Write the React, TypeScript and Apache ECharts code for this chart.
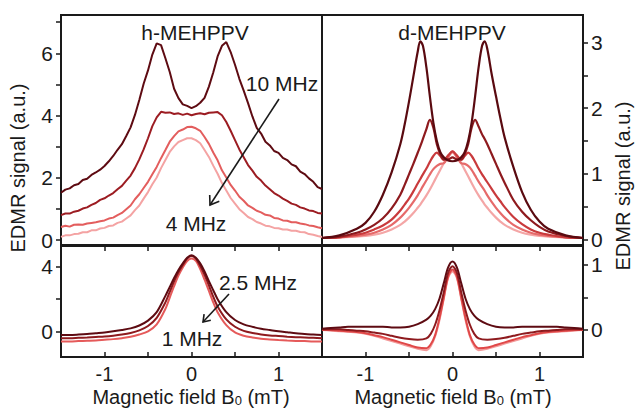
import React, { useEffect, useRef } from "react";
import * as echarts from "echarts";

// ---------- data ----------
const TL_X = [-1.5,-1.45,-1.4,-1.35,-1.3,-1.25,-1.2,-1.15,-1.1,-1.05,-1,-0.95,-0.9,-0.85,-0.8,-0.75,-0.7,-0.65,-0.6,-0.55,-0.5,-0.45,-0.4,-0.35,-0.3,-0.25,-0.2,-0.15,-0.1,-0.05,0,0.05,0.1,0.15,0.2,0.25,0.3,0.35,0.4,0.45,0.5,0.55,0.6,0.65,0.7,0.75,0.8,0.85,0.9,0.95,1,1.05,1.1,1.15,1.2,1.25,1.3,1.35,1.4,1.45,1.5];
const H_10MHZ = [1.52,1.62,1.66,1.76,1.80,1.93,1.97,2.09,2.17,2.26,2.38,2.53,2.70,2.90,3.08,3.34,3.62,4.02,4.50,5.02,5.45,5.96,6.32,6.26,5.84,5.40,4.86,4.56,4.36,4.31,4.24,4.30,4.41,4.57,4.93,5.38,5.90,6.24,6.36,6.04,5.63,5.18,4.80,4.40,3.97,3.60,3.42,3.16,3.04,2.86,2.80,2.64,2.57,2.43,2.37,2.20,2.12,1.98,1.87,1.70,1.64];
const H_8MHZ = [0.80,0.85,0.85,0.91,0.94,1.01,1.05,1.13,1.19,1.29,1.34,1.43,1.51,1.63,1.74,1.91,2.07,2.31,2.59,2.91,3.27,3.66,3.94,4.12,4.09,4.10,4.05,4.07,4.02,4.06,4.01,4.05,4.07,4.04,4.09,4.10,4.11,4.01,3.79,3.51,3.21,2.91,2.66,2.41,2.23,2.03,1.91,1.75,1.63,1.51,1.43,1.33,1.26,1.17,1.13,1.05,1.01,0.95,0.93,0.87,0.85];
const H_6MHZ = [0.42,0.46,0.43,0.49,0.50,0.49,0.53,0.55,0.57,0.60,0.63,0.69,0.72,0.80,0.87,0.99,1.11,1.31,1.47,1.67,1.87,2.11,2.35,2.63,2.89,3.16,3.34,3.49,3.55,3.63,3.64,3.59,3.51,3.31,3.09,2.81,2.56,2.24,2.01,1.77,1.59,1.39,1.26,1.11,1.03,0.94,0.89,0.81,0.79,0.71,0.69,0.63,0.62,0.57,0.57,0.53,0.51,0.47,0.45,0.41,0.38];
const H_4MHZ = [0.10,0.15,0.15,0.19,0.20,0.25,0.25,0.31,0.31,0.37,0.39,0.45,0.47,0.55,0.59,0.69,0.79,0.96,1.11,1.33,1.54,1.79,2.01,2.31,2.57,2.83,3.01,3.15,3.21,3.27,3.27,3.21,3.11,2.89,2.67,2.39,2.13,1.83,1.59,1.35,1.17,0.99,0.87,0.74,0.67,0.58,0.53,0.46,0.44,0.39,0.38,0.34,0.34,0.30,0.30,0.26,0.25,0.19,0.17,0.13,0.10];

const TR_X = [-1.5,-1.3,-1.1,-1.0,-0.9,-0.8,-0.7,-0.6,-0.55,-0.5,-0.45,-0.4,-0.37,-0.34,-0.3,-0.26,-0.22,-0.18,-0.14,-0.1,-0.05,0,0.05,0.1,0.14,0.18,0.22,0.26,0.3,0.34,0.37,0.4,0.45,0.5,0.55,0.6,0.7,0.8,0.9,1.0,1.1,1.3,1.5];
const D_1 = [0.02,0.06,0.16,0.25,0.42,0.68,1.02,1.45,1.75,2.1,2.48,2.86,3.02,2.95,2.62,2.18,1.78,1.5,1.33,1.25,1.2,1.19,1.2,1.25,1.33,1.5,1.78,2.18,2.62,2.95,3.02,2.9,2.52,2.18,1.85,1.55,1.1,0.72,0.45,0.27,0.16,0.06,0.02];
const D_2 = [0.02,0.04,0.1,0.15,0.22,0.32,0.47,0.68,0.83,0.99,1.15,1.32,1.42,1.53,1.68,1.82,1.7,1.45,1.3,1.22,1.22,1.25,1.22,1.22,1.3,1.45,1.7,1.82,1.72,1.6,1.53,1.45,1.3,1.15,1.0,0.86,0.6,0.42,0.29,0.19,0.12,0.05,0.02];
const D_3 = [0.02,0.03,0.07,0.1,0.15,0.21,0.3,0.44,0.53,0.62,0.73,0.85,0.92,0.99,1.08,1.18,1.27,1.32,1.27,1.21,1.28,1.34,1.28,1.21,1.27,1.32,1.27,1.18,1.08,0.99,0.93,0.87,0.77,0.67,0.58,0.49,0.34,0.23,0.15,0.1,0.07,0.03,0.02];
const D_4 = [0.02,0.03,0.05,0.07,0.1,0.15,0.22,0.33,0.4,0.48,0.57,0.67,0.74,0.81,0.9,0.99,1.07,1.12,1.15,1.16,1.25,1.34,1.25,1.16,1.15,1.12,1.06,0.97,0.88,0.8,0.74,0.67,0.57,0.48,0.4,0.33,0.22,0.15,0.1,0.07,0.05,0.03,0.02];
const D_5 = [0.02,0.03,0.04,0.05,0.07,0.1,0.15,0.22,0.27,0.33,0.4,0.48,0.53,0.59,0.67,0.76,0.86,0.96,1.06,1.16,1.26,1.32,1.26,1.16,1.06,0.96,0.86,0.76,0.67,0.59,0.53,0.48,0.4,0.33,0.27,0.22,0.15,0.1,0.07,0.05,0.04,0.03,0.02];

const B_X = [-1.5,-1.4,-1.3,-1.2,-1.1,-1.0,-0.9,-0.8,-0.7,-0.6,-0.5,-0.4,-0.3,-0.25,-0.2,-0.15,-0.1,-0.05,0,0.05,0.1,0.15,0.2,0.25,0.3,0.4,0.5,0.6,0.7,0.8,0.9,1.0,1.1,1.2,1.3,1.4,1.5];
const HB_25MHZ = [-0.2,-0.2,-0.18,-0.15,-0.1,-0.05,0.02,0.1,0.2,0.38,0.68,1.2,2.2,2.75,3.3,3.8,4.2,4.55,4.7,4.55,4.2,3.7,3.1,2.55,2.0,1.2,0.72,0.45,0.3,0.18,0.1,0.02,-0.04,-0.1,-0.14,-0.18,-0.2];
const HB_15MHZ = [-0.4,-0.4,-0.38,-0.36,-0.33,-0.3,-0.25,-0.18,-0.08,0.08,0.35,0.85,1.8,2.45,3.1,3.65,4.1,4.5,4.65,4.5,4.05,3.5,2.85,2.15,1.55,0.75,0.3,0.05,-0.08,-0.17,-0.23,-0.27,-0.31,-0.34,-0.36,-0.38,-0.4];
const HB_1MHZ = [-0.6,-0.6,-0.58,-0.56,-0.54,-0.5,-0.46,-0.4,-0.32,-0.18,0.02,0.45,1.4,2.1,2.8,3.45,3.95,4.35,4.5,4.35,3.85,3.2,2.5,1.8,1.2,0.4,-0.05,-0.25,-0.36,-0.44,-0.48,-0.52,-0.55,-0.57,-0.58,-0.6,-0.6];

const DB_1 = [0.02,0.03,0.04,0.05,0.05,0.05,0.05,0.05,0.04,0.04,0.05,0.09,0.16,0.22,0.32,0.48,0.72,0.96,1.05,0.96,0.72,0.48,0.32,0.22,0.16,0.09,0.05,0.04,0.04,0.05,0.05,0.05,0.05,0.05,0.04,0.03,0.02];
const DB_2 = [0.01,0.01,0.01,0.0,-0.01,-0.02,-0.04,-0.06,-0.09,-0.12,-0.14,-0.15,-0.13,-0.06,0.08,0.3,0.58,0.88,0.98,0.88,0.58,0.3,0.08,-0.06,-0.13,-0.15,-0.14,-0.12,-0.09,-0.06,-0.04,-0.02,-0.01,0.0,0.01,0.01,0.01];
const DB_3 = [0.0,0.0,-0.01,-0.02,-0.03,-0.05,-0.08,-0.11,-0.15,-0.19,-0.23,-0.27,-0.28,-0.22,-0.08,0.18,0.5,0.82,0.93,0.82,0.5,0.18,-0.08,-0.22,-0.28,-0.27,-0.23,-0.19,-0.15,-0.11,-0.08,-0.05,-0.03,-0.02,-0.01,0.0,0.0];
const DB_4 = [0.0,-0.01,-0.02,-0.03,-0.04,-0.06,-0.09,-0.13,-0.17,-0.21,-0.25,-0.29,-0.31,-0.25,-0.1,0.15,0.48,0.8,0.9,0.8,0.48,0.15,-0.1,-0.25,-0.31,-0.29,-0.25,-0.21,-0.17,-0.13,-0.09,-0.06,-0.04,-0.03,-0.02,-0.01,0.0];

const X_TICKS = [-1, -0.5, 0, 0.5, 1];
const X_LABELS = [-1, 0, 1];
const TL_TICKS = [0, 1, 2, 3, 4, 5, 6, 7];
const TL_LABELS = [0, 2, 4, 6];
const TR_TICKS = [0, 0.5, 1, 1.5, 2, 2.5, 3];
const TR_LABELS = [0, 1, 2, 3];
const BL_TICKS = [0, 2, 4];
const BL_LABELS = [0, 4];
const BR_TICKS = [0, 0.5, 1];
const BR_LABELS = [0, 1];

const FONT = "Liberation Sans";
const INK = "#1a1a1a";

const zip = (xs: number[], ys: number[]) => xs.map((x, i) => [x, ys[i]]);

export default function App() {
  const ref = useRef<HTMLDivElement>(null);
  useEffect(() => {
    if (!ref.current) return;
    const chart = echarts.init(ref.current, null, { renderer: "svg" });

    const gridStyle = { show: true, borderColor: INK, borderWidth: 2, backgroundColor: "transparent" };
    const grids = [
      { left: 61, top: 15, width: 261, height: 230, ...gridStyle },
      { left: 322, top: 15, width: 261, height: 230, ...gridStyle },
      { left: 61, top: 246, width: 261, height: 111, ...gridStyle },
      { left: 322, top: 246, width: 261, height: 111, ...gridStyle },
    ];

    const xBase = (gridIndex: number, position: string, labels: boolean, ticks: boolean) => ({
      type: "value",
      gridIndex,
      position,
      min: -1.5,
      max: 1.5,
      splitLine: { show: false },
      axisLine: { show: false, onZero: false },
      axisTick: { show: ticks, inside: true, length: 5, lineStyle: { color: INK, width: 1.5 }, customValues: X_TICKS },
      axisLabel: labels
        ? { show: true, customValues: X_LABELS, fontSize: 20, lineHeight: 20, fontFamily: FONT, color: INK, margin: 7, formatter: (v: number) => (v < 0 ? "-" + Math.abs(v) : String(v)) }
        : { show: false },
    });

    const xAxes = [
      xBase(0, "bottom", false, false),
      xBase(1, "bottom", false, false),
      xBase(2, "bottom", true, true),
      xBase(2, "top", false, true),
      xBase(3, "bottom", true, true),
      xBase(3, "top", false, true),
    ];

    const yBase = (gridIndex: number, position: string, min: number, max: number, ticks: number[], labels: number[]) => ({
      type: "value",
      gridIndex,
      position,
      min,
      max,
      splitLine: { show: false },
      axisLine: { show: false, onZero: false },
      axisTick: { show: true, inside: false, length: 5, lineStyle: { color: INK, width: 1.5 }, customValues: ticks },
      axisLabel: { show: true, customValues: labels, fontSize: 21, fontFamily: FONT, color: INK, margin: 8 },
    });

    const yAxes = [
      yBase(0, "left", -0.16, 7.23, TL_TICKS, TL_LABELS),
      yBase(1, "right", -0.087, 3.42, TR_TICKS, TR_LABELS),
      yBase(2, "left", -1.56, 5.27, BL_TICKS, BL_LABELS),
      yBase(3, "right", -0.415, 1.29, BR_TICKS, BR_LABELS),
    ];

    const line = (xi: number, yi: number, xs: number[], ys: number[], color: string, smooth: number | boolean, width = 2) => ({
      type: "line",
      xAxisIndex: xi,
      yAxisIndex: yi,
      data: zip(xs, ys),
      symbol: "none",
      showSymbol: false,
      smooth,
      clip: true,
      lineStyle: { color, width },
      itemStyle: { color },
    });

    const series = [
      line(0, 0, TL_X, H_4MHZ, "#f4a3a3", false),
      line(0, 0, TL_X, H_6MHZ, "#e35d5d", false),
      line(0, 0, TL_X, H_8MHZ, "#9c1c22", false),
      line(0, 0, TL_X, H_10MHZ, "#5e0b12", false),
      line(1, 1, TR_X, D_5, "#f4a6a6", 0.35, 2.2),
      line(1, 1, TR_X, D_4, "#e66a6a", 0.35, 2.2),
      line(1, 1, TR_X, D_3, "#c93a3c", 0.35, 2.2),
      line(1, 1, TR_X, D_2, "#8e1a1e", 0.35, 2.2),
      line(1, 1, TR_X, D_1, "#5a0a10", 0.35, 2.2),
      line(2, 2, B_X, HB_1MHZ, "#e55a5a", 0.3),
      line(2, 2, B_X, HB_15MHZ, "#8e1a1e", 0.3),
      line(2, 2, B_X, HB_25MHZ, "#5e0b12", 0.3),
      line(4, 3, B_X, DB_4, "#f39a9a", 0.3),
      line(4, 3, B_X, DB_3, "#e04848", 0.3),
      line(4, 3, B_X, DB_2, "#8e1a1e", 0.3),
      line(4, 3, B_X, DB_1, "#5e0b12", 0.3),
    ];

    const txt = (text: string, x: number, y: number, rotation = 0, size = 21) => ({
      type: "text",
      x,
      y,
      rotation,
      z: 100,
      style: { text, x: 0, y: 0, fill: INK, fontSize: size, fontFamily: FONT, align: "center", verticalAlign: "middle" },
    });

    const axisName = (x: number, y: number) => ({
      type: "text",
      x,
      y,
      z: 100,
      style: {
        text: "Magnetic field B{s|0} (mT)",
        x: 0,
        y: 0,
        fill: INK,
        fontSize: 20,
        lineHeight: 20,
        fontFamily: FONT,
        align: "center",
        verticalAlign: "middle",
        rich: { s: { fontSize: 13, lineHeight: 13, fontFamily: FONT, fill: INK, padding: [6, 0, 0, 0] } },
      },
    });

    const arrow = (x1: number, y1: number, x2: number, y2: number, head: number[][]) => [
      { type: "line", z: 100, shape: { x1, y1, x2, y2 }, style: { stroke: INK, lineWidth: 1.6 } },
      { type: "polyline", z: 100, shape: { points: head }, style: { stroke: INK, lineWidth: 1.6, fill: "none" } },
    ];

    const graphic = [
      txt("h-MEHPPV", 195, 32),
      txt("d-MEHPPV", 452, 32),
      txt("10 MHz", 282, 83),
      txt("4 MHz", 196, 223),
      txt("2.5 MHz", 258, 282),
      txt("1 MHz", 192, 338),
      txt("EDMR signal (a.u.)", 18, 168, Math.PI / 2, 20),
      txt("EDMR signal (a.u.)", 623, 186, Math.PI / 2, 20),
      axisName(191, 397),
      axisName(453, 397),
      ...arrow(279, 99, 210, 205, [[219.3, 201.3], [210, 205], [209.7, 195]]),
      ...arrow(229, 294, 203, 322, [[210.8, 320.3], [203, 322], [204.1, 314.1]]),
    ];

    chart.setOption({
      animation: false,
      backgroundColor: "#ffffff",
      textStyle: { fontFamily: FONT },
      grid: grids,
      xAxis: xAxes,
      yAxis: yAxes,
      series,
      graphic,
    } as any);

    return () => chart.dispose();
  }, []);

  return <div ref={ref} style={{ position: "absolute", left: 0, top: 0, width: 635, height: 410 }} />;
}
